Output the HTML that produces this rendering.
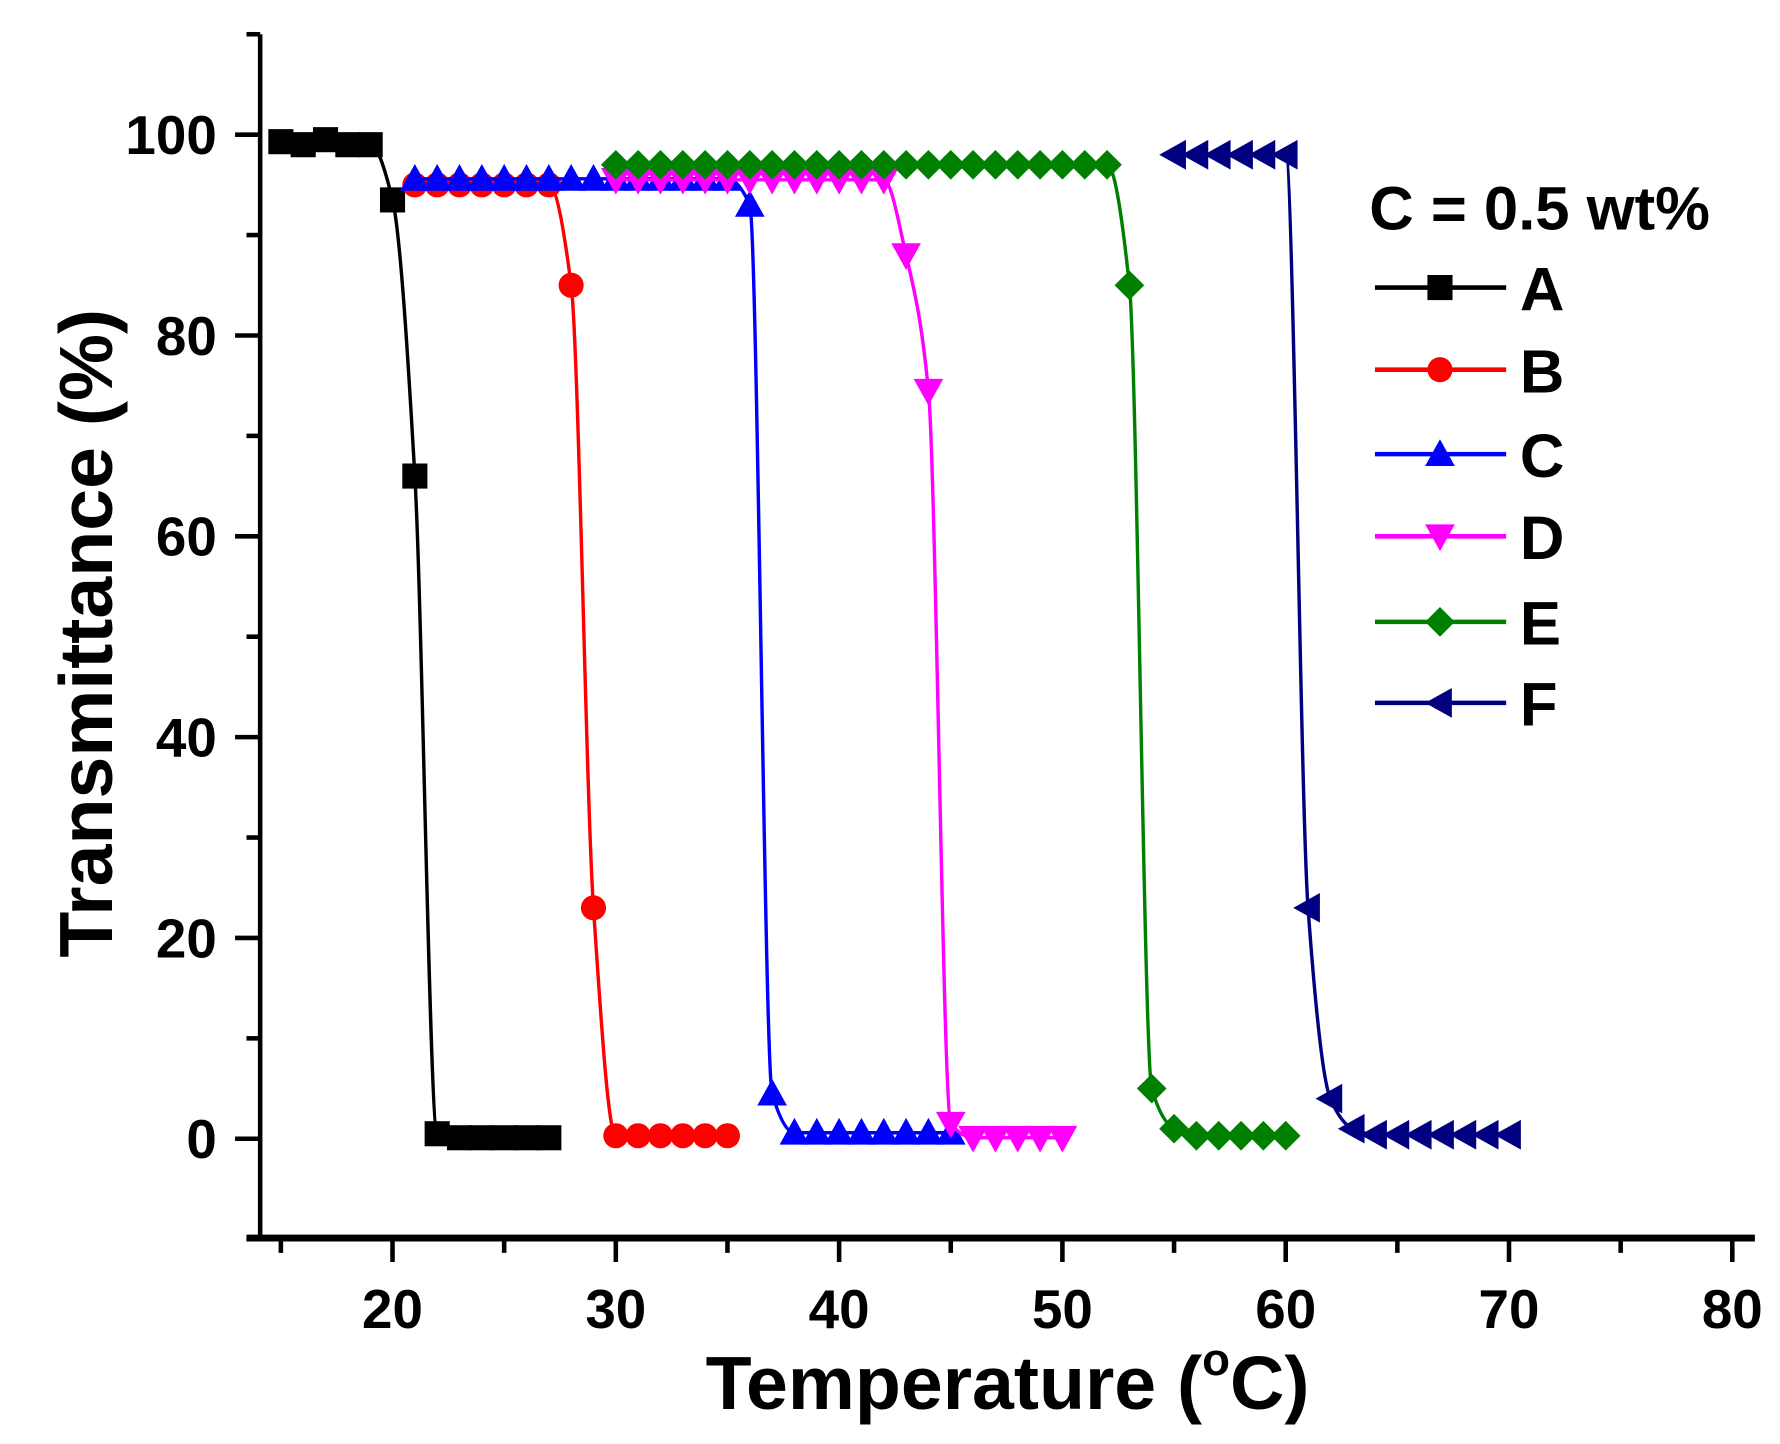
<!DOCTYPE html>
<html><head><meta charset="utf-8"><style>
html,body{margin:0;padding:0;background:#fff}
svg{display:block}
text{font-family:"Liberation Sans",Arial,sans-serif;font-weight:bold;fill:#000}
</style></head><body>
<svg id="s" width="1780" height="1444" viewBox="0 0 1560 1265.5" xmlns="http://www.w3.org/2000/svg">
<rect width="1560" height="1266" fill="#fff"/>
<g id="g"></g>
<text x="883" y="1235" font-size="66" text-anchor="middle">Temperature (<tspan font-size="40" dy="-30">o</tspan><tspan dy="30">C)</tspan></text>
<text transform="translate(98,555) rotate(-90)" font-size="66" text-anchor="middle">Transmittance (%)</text>
<text x="1200" y="201" font-size="54">C = 0.5 wt%</text>
</svg>
<script>
const NS="http://www.w3.org/2000/svg",g=document.getElementById('g');
function el(t,a){const e=document.createElementNS(NS,t);for(const k in a)e.setAttribute(k,a[k]);g.appendChild(e);return e;}
const X=v=>344+(v-20)*19.57, Y=v=>998-v*8.8;
el('line',{x1:228,y1:30,x2:228,y2:1087,stroke:'#000','stroke-width':4});
el('line',{x1:216,y1:1085,x2:1538,y2:1085,stroke:'#000','stroke-width':6});
for(let v=-10;v<=110;v+=10){const maj=v%20==0&&v>=0&&v<=100;el('line',{x1:maj?206:216,y1:Y(v),x2:228,y2:Y(v),stroke:'#000','stroke-width':4});
 if(maj){const t=el('text',{x:190,y:Y(v)+17,'font-size':48,'text-anchor':'end'});t.textContent=v;}}
for(let v=15;v<=80;v+=5){const maj=v%10==0;el('line',{x1:X(v),y1:1085,x2:X(v),y2:maj?1106:1098,stroke:'#000','stroke-width':4});
 if(maj){const t=el('text',{x:X(v),y:1164,'font-size':48,'text-anchor':'middle'});t.textContent=v;}}
function rng(a,b,v){const r=[];for(let i=a;i<=b;i++)r.push([i,v]);return r;}
const S=[
 {c:'#000',m:'sq',d:[[15,99.3],[16,99],[17,99.5],[18,99],[19,99],[20,93.5],[21,66],[22,0.5]].concat(rng(23,27,0.1))},
 {c:'#ff0000',m:'ci',d:rng(21,27,95).concat([[28,85],[29,23]]).concat(rng(30,35,0.3))},
 {c:'#0000ff',m:'tu',d:rng(21,35,95.6).concat([[36,93],[37,4.5]]).concat(rng(38,45,0.6))},
 {c:'#ff00ff',m:'td',d:rng(30,42,95.5).concat([[43,88],[44,74.5],[45,1.5]]).concat(rng(46,50,0.1))},
 {c:'#008000',m:'di',d:rng(30,52,97).concat([[53,85],[54,5],[55,1]]).concat(rng(56,60,0.3))},
 {c:'#000080',m:'tl',d:rng(55,60,98).concat([[61,23],[62,4],[63,1]]).concat(rng(64,70,0.4))}
];
function path(p){
 const n=p.length,dx=[],m=[],t=[];for(let i=0;i<n-1;i++){dx[i]=p[i+1][0]-p[i][0];m[i]=(p[i+1][1]-p[i][1])/dx[i];}
 t[0]=m[0];t[n-1]=m[n-2];for(let i=1;i<n-1;i++){t[i]=(m[i-1]*m[i]<=0)?0:3*(dx[i-1]+dx[i])/((2*dx[i]+dx[i-1])/m[i-1]+(dx[i]+2*dx[i-1])/m[i]);}
 let s='M'+X(p[0][0])+','+Y(p[0][1]);
 for(let i=0;i<n-1;i++){const h=dx[i]/3;s+='C'+X(p[i][0]+h)+','+Y(p[i][1]+t[i]*h)+' '+X(p[i+1][0]-h)+','+Y(p[i+1][1]-t[i+1]*h)+' '+X(p[i+1][0])+','+Y(p[i+1][1]);}
 return s;}
function mk(m,x,y,c){const r=11;
 if(m=='sq')el('rect',{x:x-r,y:y-r,width:2*r,height:2*r,fill:c});
 else if(m=='ci')el('circle',{cx:x,cy:y,r:r,fill:c});
 else{let pts;const k=13;
  if(m=='tu')pts=[[x,y-k],[x+k,y+k*0.8],[x-k,y+k*0.8]];
  if(m=='td')pts=[[x,y+k],[x+k,y-k*0.8],[x-k,y-k*0.8]];
  if(m=='tl')pts=[[x-k,y],[x+k*0.8,y-k],[x+k*0.8,y+k]];
  if(m=='di')pts=[[x,y-k],[x+k,y],[x,y+k],[x-k,y]];
  el('polygon',{points:pts.map(q=>q.join(',')).join(' '),fill:c});}}
S.forEach(s=>{el('path',{d:path(s.d),fill:'none',stroke:s.c,'stroke-width':3});s.d.forEach(q=>mk(s.m,X(q[0]),Y(q[1]),s.c));});
const L=['A','B','C','D','E','F'],LY=[252,324,398,470,545,616];
S.forEach((s,i)=>{el('line',{x1:1205,y1:LY[i],x2:1320,y2:LY[i],stroke:s.c,'stroke-width':4});mk(s.m,1262,LY[i],s.c);
 const t=el('text',{x:1332,y:LY[i]+20,'font-size':54});t.textContent=L[i];});
</script>
</body></html>
